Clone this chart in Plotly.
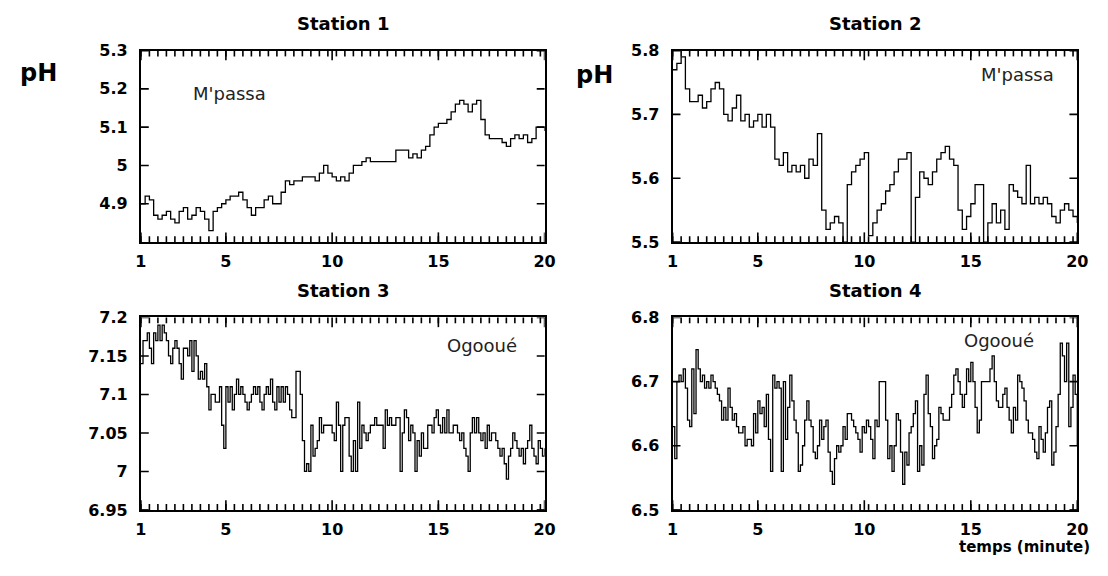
import plotly.graph_objects as go

# ---------------- data (pH readings) ----------------
station_titles = ["Station 1", "Station 2", "Station 3", "Station 4"]
river_labels = ["M'passa", "M'passa", "Ogooué", "Ogooué"]

x_ticks = [1, 5, 10, 15, 20]
y_ticks_s1 = [4.9, 5.0, 5.1, 5.2, 5.3]
y_ticklabels_s1 = ["4.9", "5", "5.1", "5.2", "5.3"]
y_ticks_s2 = [5.5, 5.6, 5.7, 5.8]
y_ticklabels_s2 = ["5.5", "5.6", "5.7", "5.8"]
y_ticks_s3 = [6.95, 7.0, 7.05, 7.1, 7.15, 7.2]
y_ticklabels_s3 = ["6.95", "7", "7.05", "7.1", "7.15", "7.2"]
y_ticks_s4 = [6.5, 6.6, 6.7, 6.8]
y_ticklabels_s4 = ["6.5", "6.6", "6.7", "6.8"]

ph_station1 = [
    4.90, 4.92, 4.91, 4.87, 4.86, 4.87, 4.88, 4.86, 4.85, 4.88,
    4.89, 4.86, 4.87, 4.89, 4.88, 4.86, 4.83, 4.88, 4.89, 4.90,
    4.91, 4.92, 4.92, 4.93, 4.91, 4.89, 4.87, 4.89, 4.89, 4.91,
    4.92, 4.90, 4.90, 4.93, 4.96, 4.95, 4.96, 4.96, 4.97, 4.97,
    4.97, 4.96, 4.98, 5.00, 4.98, 4.97, 4.96, 4.97, 4.96, 4.98,
    5.00, 5.00, 5.01, 5.02, 5.01, 5.01, 5.01, 5.01, 5.01, 5.01,
    5.04, 5.04, 5.04, 5.02, 5.03, 5.02, 5.04, 5.05, 5.08, 5.10,
    5.11, 5.11, 5.12, 5.14, 5.16, 5.17, 5.16, 5.14, 5.16, 5.17,
    5.12, 5.08, 5.07, 5.07, 5.07, 5.06, 5.05, 5.07, 5.08, 5.07,
    5.08, 5.06, 5.07, 5.10, 5.10, 5.09,
]

ph_station2 = [
    5.77, 5.78, 5.79, 5.74, 5.72, 5.72, 5.73, 5.71, 5.72, 5.74,
    5.75, 5.74, 5.70, 5.69, 5.71, 5.73, 5.69, 5.70, 5.68, 5.69,
    5.70, 5.68, 5.70, 5.68, 5.63, 5.62, 5.64, 5.61, 5.62, 5.61,
    5.62, 5.60, 5.63, 5.62, 5.67, 5.55, 5.52, 5.53, 5.54, 5.53,
    5.50, 5.59, 5.61, 5.62, 5.63, 5.64, 5.51, 5.53, 5.55, 5.56,
    5.58, 5.59, 5.61, 5.63, 5.63, 5.64, 5.50, 5.57, 5.61, 5.60,
    5.59, 5.61, 5.63, 5.64, 5.65, 5.63, 5.62, 5.55, 5.52, 5.54,
    5.56, 5.59, 5.59, 5.50, 5.53, 5.56, 5.53, 5.55, 5.52, 5.59,
    5.58, 5.57, 5.56, 5.62, 5.56, 5.57, 5.56, 5.57, 5.56, 5.54,
    5.53, 5.55, 5.56, 5.55, 5.54, 5.53,
]

ph_station3 = [
    7.14, 7.17, 7.17, 7.18, 7.16, 7.14, 7.18, 7.17, 7.19, 7.17,
    7.19, 7.18, 7.17, 7.15, 7.14, 7.16, 7.17, 7.16, 7.14, 7.12,
    7.16, 7.16, 7.15, 7.17, 7.13, 7.17, 7.15, 7.12, 7.13, 7.12,
    7.14, 7.11, 7.08, 7.10, 7.10, 7.09, 7.09, 7.11, 7.06, 7.03,
    7.11, 7.09, 7.11, 7.08, 7.10, 7.12, 7.10, 7.11, 7.10, 7.09,
    7.08, 7.09, 7.10, 7.11, 7.10, 7.11, 7.09, 7.08, 7.10, 7.11,
    7.10, 7.12, 7.09, 7.08, 7.11, 7.09, 7.11, 7.09, 7.11, 7.10,
    7.08, 7.07, 7.07, 7.13, 7.13, 7.10, 7.04, 7.00, 7.01, 7.00,
    7.06, 7.02, 7.03, 7.04, 7.07, 7.05, 7.06, 7.06, 7.06, 7.06,
    7.05, 7.04, 7.09, 7.06, 7.00, 7.06, 7.07,
    7.07, 7.02, 7.00, 7.04, 7.00, 7.09, 7.03, 7.06, 7.05, 7.04,
    7.05, 7.06, 7.06, 7.07, 7.06, 7.06, 7.06, 7.03, 7.08, 7.06,
    7.07, 7.06, 7.06, 7.07, 7.07, 7.00, 7.05, 7.08, 7.07, 7.04,
    7.06, 7.05, 7.00, 7.04, 7.02, 7.05, 7.03, 7.03, 7.06, 7.06,
    7.05, 7.07, 7.08, 7.06, 7.05, 7.07, 7.05, 7.08, 7.05, 7.05,
    7.06, 7.06, 7.05, 7.04, 7.05, 7.03, 7.02, 7.00, 7.05, 7.07,
    7.05, 7.07, 7.05, 7.04, 7.05, 7.03, 7.06, 7.04, 7.05, 7.05,
    7.04, 7.03, 7.02, 7.03, 7.01, 6.99, 7.02, 7.03, 7.05, 7.04,
    7.03, 7.02, 7.03, 7.01, 7.03, 7.04, 7.06, 7.03, 7.02, 7.01,
    7.04, 7.03, 7.02, 7.03,
]

ph_station4 = [
    6.63, 6.58, 6.70, 6.71, 6.70, 6.72, 6.69, 6.64, 6.63, 6.72,
    6.65, 6.75, 6.72, 6.70, 6.71, 6.69, 6.70, 6.69, 6.71, 6.70,
    6.69, 6.68, 6.67, 6.64, 6.66, 6.64, 6.69, 6.66, 6.64, 6.65,
    6.63, 6.62, 6.62, 6.63, 6.60, 6.61, 6.61, 6.60, 6.65, 6.62,
    6.67, 6.65, 6.66, 6.63, 6.68, 6.61, 6.56, 6.71, 6.69, 6.70,
    6.69, 6.56, 6.70, 6.61, 6.66, 6.71, 6.67, 6.64, 6.62, 6.56,
    6.57, 6.60, 6.64, 6.67, 6.64, 6.63, 6.59, 6.58, 6.60, 6.64,
    6.61, 6.63, 6.64, 6.59, 6.56, 6.54, 6.58, 6.60, 6.59, 6.60,
    6.63, 6.61, 6.65, 6.65, 6.64, 6.63, 6.62, 6.61, 6.59, 6.63,
    6.62, 6.64, 6.63, 6.61, 6.58, 6.64, 6.63,
    6.70, 6.70, 6.70, 6.64, 6.58, 6.60, 6.56, 6.60, 6.65, 6.64,
    6.59, 6.54, 6.59, 6.57, 6.62, 6.63, 6.65, 6.67, 6.56, 6.60,
    6.57, 6.68, 6.71, 6.65, 6.63, 6.58, 6.60, 6.61, 6.66, 6.65,
    6.64, 6.64, 6.64, 6.66, 6.68, 6.71, 6.72, 6.70, 6.68, 6.66,
    6.68, 6.72, 6.70, 6.73, 6.70, 6.66, 6.62, 6.64, 6.70, 6.70,
    6.70, 6.70, 6.72, 6.74, 6.70, 6.67, 6.66, 6.66, 6.68, 6.69,
    6.66, 6.64, 6.62, 6.66, 6.64, 6.71, 6.70, 6.69, 6.67, 6.64,
    6.62, 6.62, 6.61, 6.59, 6.58, 6.63, 6.61, 6.59, 6.62, 6.66,
    6.67, 6.57, 6.59, 6.63, 6.68, 6.76, 6.74, 6.70, 6.76, 6.63,
    6.66, 6.71, 6.68, 6.60,
]

t_start, t_end = 1.0, 20.0
minor_tick_step = 0.4


def time_axis(values):
    n = len(values)
    step = (t_end - t_start) / (n - 1)
    return [t_start + i * step for i in range(n)]


series = [ph_station1, ph_station2, ph_station3, ph_station4]
y_ranges = [[4.8, 5.3], [5.5, 5.8], [6.95, 7.2], [6.5, 6.8]]
y_tickvals = [y_ticks_s1, y_ticks_s2, y_ticks_s3, y_ticks_s4]
y_ticktexts = [y_ticklabels_s1, y_ticklabels_s2, y_ticklabels_s3, y_ticklabels_s4]

# minor tick positions along the time axis
minor_positions = []
v = t_start
while v <= t_end + 1e-9:
    minor_positions.append(round(v, 4))
    v += minor_tick_step

# ---------------- layout geometry (pixels) ----------------
W, H = 1108, 576
panel_px = [  # left, right, top, bottom
    (137, 547, 43, 241),
    (677, 1088, 43, 241),
    (137, 547, 319, 518),
    (677, 1088, 319, 518),
]

FONT = "DejaVu Sans"
tick_font = dict(family=FONT, size=16, color="black", weight="bold")

fig = go.Figure()
layout = dict(
    width=W, height=H,
    margin=dict(l=0, r=0, t=0, b=0),
    paper_bgcolor="white", plot_bgcolor="white",
    showlegend=False,
)

annotations = []
shapes = []
tick_line = dict(color="black", width=1.6)
for i, (vals, (l, r, t, b)) in enumerate(zip(series, panel_px)):
    n = i + 1
    xa = "x" if n == 1 else f"x{n}"
    ya = "y" if n == 1 else f"y{n}"
    xkey = "xaxis" if n == 1 else f"xaxis{n}"
    ykey = "yaxis" if n == 1 else f"yaxis{n}"
    fig.add_trace(go.Scatter(
        x=time_axis(vals), y=vals, mode="lines", xaxis=xa, yaxis=ya,
        line=dict(color="black", width=1.3, shape="hv"),
        hoverinfo="skip",
    ))
    layout[xkey] = dict(
        domain=[l / W, r / W], anchor=ya, range=[t_start, t_end],
        tickmode="array", tickvals=x_ticks, ticktext=[str(v) for v in x_ticks],
        ticks="", showline=True, linecolor="black", linewidth=2, mirror=True,
        showgrid=False, zeroline=False, tickfont=tick_font,
        ticklabelstandoff=4,
    )
    layout[ykey] = dict(
        domain=[1 - b / H, 1 - t / H], anchor=xa, range=y_ranges[i],
        tickmode="array", tickvals=y_tickvals[i], ticktext=y_ticktexts[i],
        ticks="", showline=True, linecolor="black", linewidth=2, mirror=True,
        showgrid=False, zeroline=False, tickfont=tick_font,
        ticklabelstandoff=8,
    )
    pw, ph = r - l, b - t
    # inside tick marks (axis decoration), placed through the axis scales
    xdom, ydom = f"{xa} domain", f"{ya} domain"
    for xv in minor_positions:
        for y0, y1 in [(0, 6 / ph), (1, 1 - 6 / ph)]:
            shapes.append(dict(type="line", xref=xa, yref=ydom, x0=xv, x1=xv,
                               y0=y0, y1=y1, line=tick_line, layer="above"))
    for xv in x_ticks:
        for y0, y1 in [(0, 10 / ph), (1, 1 - 10 / ph)]:
            shapes.append(dict(type="line", xref=xa, yref=ydom, x0=xv, x1=xv,
                               y0=y0, y1=y1, line=tick_line, layer="above"))
    for yv in y_tickvals[i]:
        for x0, x1 in [(0, 8 / pw), (1, 1 - 8 / pw)]:
            shapes.append(dict(type="line", xref=xdom, yref=ya, x0=x0, x1=x1,
                               y0=yv, y1=yv, line=tick_line, layer="above"))
    # panel title
    annotations.append(dict(
        text=station_titles[i], xref="paper", yref="paper",
        x=((l + r) / 2) / W, y=1 - (t - 28) / H, xanchor="center", yanchor="middle",
        showarrow=False, font=dict(family=FONT, size=18, color="black", weight="bold"),
    ))

# river labels inside panels (pixel centres)
river_pos = [(227, 87), (1027, 68), (483, 348), (1008, 343)]
for label, (px, py) in zip(river_labels, river_pos):
    annotations.append(dict(
        text=label, xref="paper", yref="paper", x=px / W, y=1 - py / H,
        xanchor="center", yanchor="middle", showarrow=False,
        font=dict(family=FONT, size=18, color="#222222"),
    ))

# axis captions
for px, py in [(33, 66), (598, 68)]:
    annotations.append(dict(
        text="pH", xref="paper", yref="paper", x=px / W, y=1 - py / H,
        xanchor="center", yanchor="middle", showarrow=False,
        font=dict(family=FONT, size=24, color="black", weight="bold"),
    ))
annotations.append(dict(
    text="temps (minute)", xref="paper", yref="paper", x=1034 / W, y=1 - 556 / H,
    xanchor="center", yanchor="middle", showarrow=False,
    font=dict(family=FONT, size=15, color="black", weight="bold"),
))

layout["annotations"] = annotations
layout["shapes"] = shapes
fig.update_layout(**layout)
fig.write_html("out.html")
